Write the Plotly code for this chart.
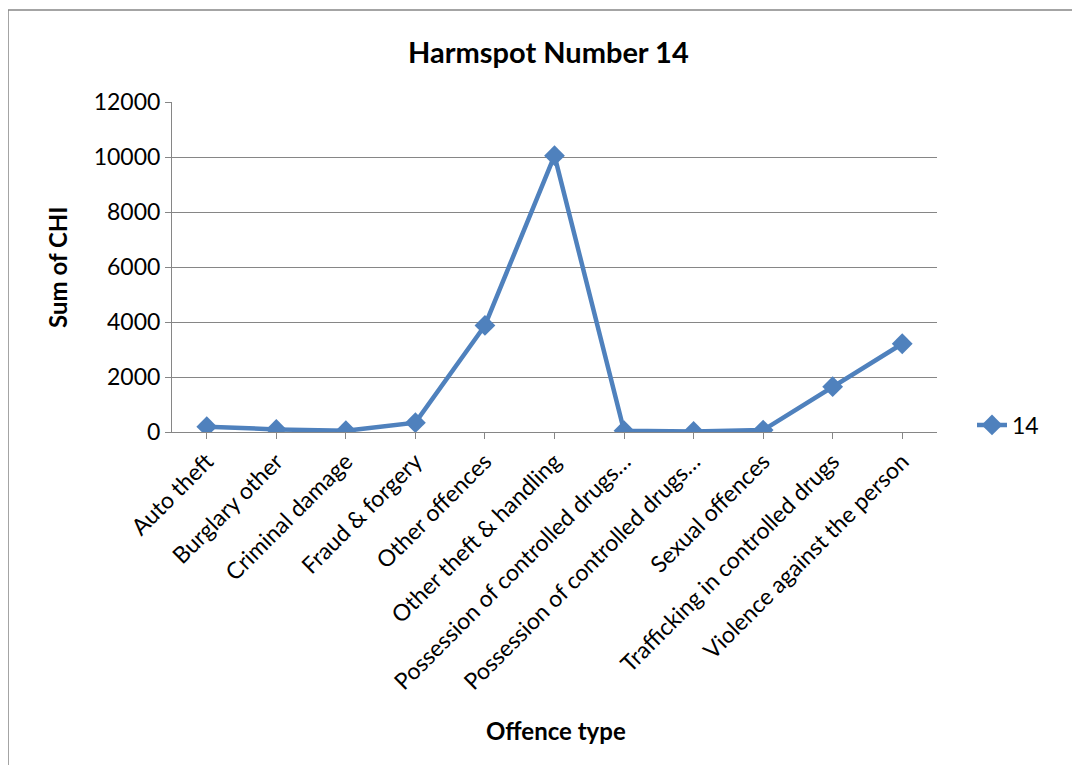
import plotly.graph_objects as go

categories = ["Auto theft", "Burglary other", "Criminal damage", "Fraud & forgery",
              "Other offences", "Other theft & handling", "Possession of controlled drugs…",
              "Possession of controlled drugs…", "Sexual offences",
              "Trafficking in controlled drugs", "Violence against the person"]
values = [195, 95, 45, 340, 3875, 10050, 45, 20, 70, 1650, 3210]
y_ticks = [0, 2000, 4000, 6000, 8000, 10000, 12000]
y_tick_text = ["0", "2000", "4000", "6000", "8000", "10000", "12000"]

x_idx = list(range(len(categories)))
FONT = "Lato"
GRID = "#868686"
BLUE = "#4F81BD"

OFF = 8  # page offset seen in the rendered screenshot
W, H = 1080 - 2 * OFF, 773 - 2 * OFF
L, R, T, B = 172 - OFF, 937 - OFF, 102 - OFF, 432 - OFF
pw, ph = R - L, B - T

def px_x(x):
    return (x - OFF - L) / pw

def px_y(y):
    return (B - (y - OFF)) / ph

fig = go.Figure()
fig.add_trace(go.Scatter(
    x=x_idx, y=values, mode="lines+markers", name="14",
    line=dict(color=BLUE, width=4.5),
    marker=dict(symbol="diamond", size=16, color=BLUE),
))

fig.update_layout(
    width=W, height=H,
    margin=dict(l=L, r=W - R, t=T, b=H - B, autoexpand=False),
    paper_bgcolor="white", plot_bgcolor="white",
    font=dict(family=FONT, size=23, color="black"),
    showlegend=True,
    legend=dict(x=px_x(972), y=px_y(425), xanchor="left", yanchor="middle",
                font=dict(size=23, family=FONT), bgcolor="rgba(0,0,0,0)"),
    xaxis=dict(
        tickmode="array", tickvals=x_idx, ticktext=categories,
        range=[-0.5, len(categories) - 0.5], automargin=False,
        tickangle=-45, showgrid=False, showline=True, linecolor=GRID, linewidth=1,
        ticks="outside", ticklen=6, tickcolor=GRID, tickson="boundaries",
        zeroline=False, tickfont=dict(size=23),
    ),
    yaxis=dict(
        range=[0, 12000], tickmode="array", tickvals=y_ticks, ticktext=y_tick_text,
        automargin=False, showgrid=True, gridcolor=GRID, gridwidth=1,
        showline=True, linecolor=GRID, linewidth=1, ticks="outside", ticklen=6,
        tickcolor=GRID, zeroline=False, tickfont=dict(size=23),
    ),
    annotations=[
        dict(text="<b>Harmspot Number 14</b>", xref="paper", yref="paper",
             x=px_x(548), y=px_y(52), xanchor="center", yanchor="middle",
             showarrow=False, font=dict(size=29, family=FONT)),
        dict(text="<b>Sum of CHI</b>", xref="paper", yref="paper",
             x=px_x(57), y=px_y(268), xanchor="center", yanchor="middle",
             showarrow=False, textangle=-90, font=dict(size=24, family=FONT)),
        dict(text="<b>Offence type</b>", xref="paper", yref="paper",
             x=px_x(556), y=px_y(730), xanchor="center", yanchor="middle",
             showarrow=False, font=dict(size=24, family=FONT)),
    ],
)

# outer chart border: only left and top edges are visible in the reference
border = dict(color=GRID, width=1.5)
fig.add_shape(type="line", xref="paper", yref="paper",
              x0=px_x(8), x1=px_x(8), y0=px_y(10), y1=px_y(773), line=border, layer="below")
fig.add_shape(type="line", xref="paper", yref="paper",
              x0=px_x(8), x1=px_x(1080), y0=px_y(10), y1=px_y(10), line=border, layer="below")

fig.write_html("out.html")
